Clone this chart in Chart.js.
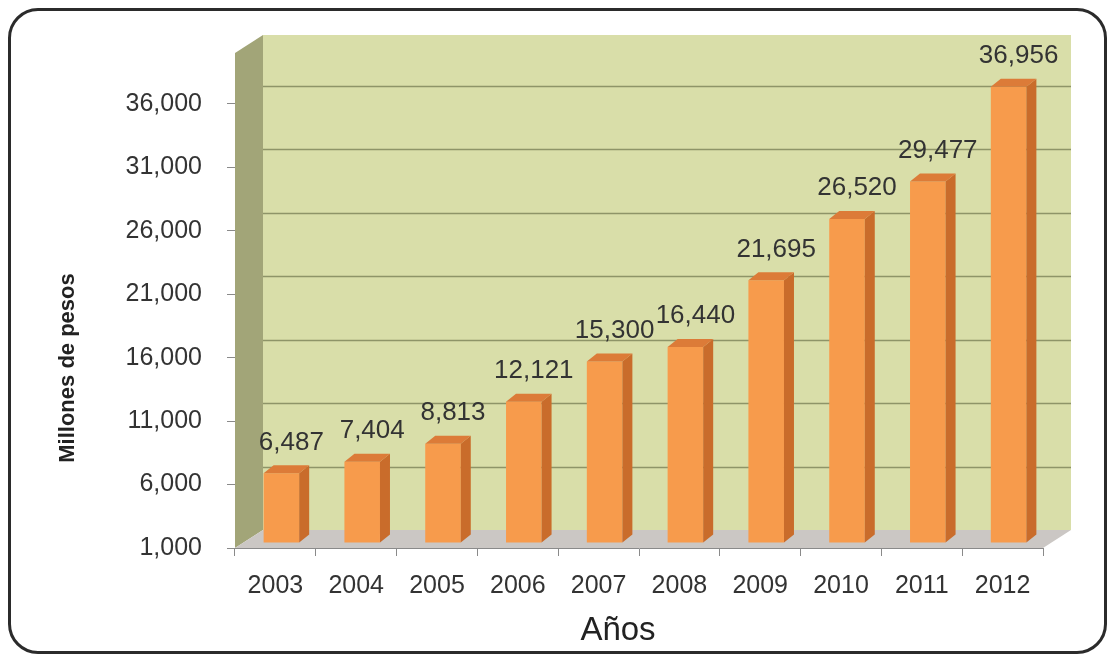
<!DOCTYPE html>
<html>
<head>
<meta charset="utf-8">
<script src="https://cdn.jsdelivr.net/npm/chart.js@4.4.1/dist/chart.umd.min.js"></script>
<style>
    html, body { margin: 0; padding: 0; background: #fff; }
    #wrap { position: relative; width: 1107px; height: 656px; overflow: hidden; }
    #frame {
        position: absolute; left: 8px; top: 8px; width: 1093px; height: 640px;
        border: 3px solid #2b2b2b; border-radius: 30px;
    }
    #myChart { position: absolute; left: 0; top: 0; }
</style>
</head>
<body>
<div id="wrap">
    <div id="frame"></div>
    <canvas id="myChart" width="1107" height="656"></canvas>
</div>
<script>
    var YEARS = ['2003', '2004', '2005', '2006', '2007', '2008', '2009', '2010', '2011', '2012'];
    var AMOUNTS = [6487, 7404, 8813, 12121, 15300, 16440, 21695, 26520, 29477, 36956];
    var Y_TICKS = [1000, 6000, 11000, 16000, 21000, 26000, 31000, 36000];
    var X_TITLE = 'Años';
    var Y_TITLE = 'Millones de pesos';

    var FONT = '"Liberation Sans", Arial, sans-serif',
        WALL_DX = 28, WALL_DY = -18,     // depth of the back wall
        BAR_DX = 10, BAR_DY = -8,        // depth of each bar
        BAR_SHIFT_X = 6, BAR_SHIFT_Y = -5;

    function fmt(v) {
        return v.toLocaleString('en-US');
    }

    // walls, floor, back grid lines, bar sides and labels
    var walls = {
        id: 'walls',
        beforeDraw: function (chart) {
            var ctx = chart.ctx,
                a = chart.chartArea,
                yScale = chart.scales.y;

            ctx.save();
            // back wall
            ctx.fillStyle = '#d9dea9';
            ctx.fillRect(a.left + WALL_DX, a.top + WALL_DY, a.right - a.left, a.bottom - a.top);

            // grid lines on back wall
            ctx.strokeStyle = '#8e9468';
            ctx.lineWidth = 1.5;
            Y_TICKS.forEach(function (v) {
                if (v === Y_TICKS[0]) return;
                var y = Math.round(yScale.getPixelForValue(v) + WALL_DY) + 0.5;
                ctx.beginPath();
                ctx.moveTo(a.left + WALL_DX, y);
                ctx.lineTo(a.right + WALL_DX, y);
                ctx.stroke();
            });

            // left wall
            ctx.fillStyle = '#a2a578';
            ctx.beginPath();
            ctx.moveTo(a.left, a.top);
            ctx.lineTo(a.left + WALL_DX, a.top + WALL_DY);
            ctx.lineTo(a.left + WALL_DX, a.bottom + WALL_DY);
            ctx.lineTo(a.left, a.bottom);
            ctx.closePath();
            ctx.fill();

            // floor
            ctx.fillStyle = '#cbc7c4';
            ctx.beginPath();
            ctx.moveTo(a.left, a.bottom);
            ctx.lineTo(a.left + WALL_DX, a.bottom + WALL_DY);
            ctx.lineTo(a.right + WALL_DX, a.bottom + WALL_DY);
            ctx.lineTo(a.right, a.bottom);
            ctx.closePath();
            ctx.fill();
            ctx.restore();
        },
        beforeDatasetsDraw: function (chart) {
            chart.ctx.save();
            chart.ctx.translate(BAR_SHIFT_X, BAR_SHIFT_Y);
        },
        afterDatasetsDraw: function (chart) {
            var ctx = chart.ctx,
                meta = chart.getDatasetMeta(0);

            meta.data.forEach(function (bar) {
                var p = bar.getProps(['x', 'y', 'base', 'width'], true),
                    l = p.x - p.width / 2,
                    r = p.x + p.width / 2;

                // side
                ctx.fillStyle = '#c96c2b';
                ctx.beginPath();
                ctx.moveTo(r, p.y);
                ctx.lineTo(r + BAR_DX, p.y + BAR_DY);
                ctx.lineTo(r + BAR_DX, p.base + BAR_DY);
                ctx.lineTo(r, p.base);
                ctx.closePath();
                ctx.fill();

                // top
                ctx.fillStyle = '#dc7b38';
                ctx.beginPath();
                ctx.moveTo(l, p.y);
                ctx.lineTo(l + BAR_DX, p.y + BAR_DY);
                ctx.lineTo(r + BAR_DX, p.y + BAR_DY);
                ctx.lineTo(r, p.y);
                ctx.closePath();
                ctx.fill();
            });

            // value labels
            ctx.fillStyle = '#333';
            ctx.font = '26px ' + FONT;
            ctx.textAlign = 'center';
            ctx.textBaseline = 'middle';
            meta.data.forEach(function (bar, i) {
                ctx.fillText(fmt(AMOUNTS[i]), bar.x + 10, bar.y - 31);
            });
            ctx.restore();
        },
        afterDraw: function (chart) {
            var ctx = chart.ctx,
                a = chart.chartArea;

            ctx.save();
            ctx.fillStyle = '#222';
            ctx.textAlign = 'center';
            ctx.textBaseline = 'middle';

            ctx.font = '33px ' + FONT;
            ctx.fillText(X_TITLE, (a.left + a.right) / 2 - 21, 631);

            ctx.translate(68, 368);
            ctx.rotate(-Math.PI / 2);
            ctx.font = 'bold 22px ' + FONT;
            ctx.fillText(Y_TITLE, 0, 0);
            ctx.restore();
        }
    };

    new Chart(document.getElementById('myChart').getContext('2d'), {
        type: 'bar',
        data: {
            labels: YEARS,
            datasets: [{
                data: AMOUNTS,
                base: Y_TICKS[0],
                backgroundColor: '#f79b4c',
                borderWidth: 0,
                barPercentage: 0.44,
                categoryPercentage: 1
            }]
        },
        options: {
            responsive: false,
            animation: false,
            layout: { padding: { left: 55, right: 64, top: 53, bottom: 0 } },
            plugins: {
                legend: { display: false },
                tooltip: { enabled: false }
            },
            scales: {
                x: {
                    grid: { drawOnChartArea: false, drawTicks: true, tickLength: 8, color: '#8a8a8a', offset: true },
                    border: { display: true, color: '#8a8a8a' },
                    ticks: { color: '#333', padding: 15, font: { family: FONT, size: 25 } },
                    afterFit: function (scale) { scale.height = 108; }
                },
                y: {
                    min: Y_TICKS[0],
                    max: 40000,
                    grid: { drawOnChartArea: false, drawTicks: true, tickLength: 8, color: '#8a8a8a' },
                    border: { display: false },
                    ticks: {
                        color: '#333', padding: 25, font: { family: FONT, size: 25 },
                        callback: function (v) { return fmt(v); }
                    },
                    afterBuildTicks: function (scale) {
                        scale.ticks = Y_TICKS.map(function (v) { return { value: v }; });
                    },
                    afterFit: function (scale) { scale.width = 180; }
                }
            }
        },
        plugins: [walls]
    });
</script>
</body>
</html>
